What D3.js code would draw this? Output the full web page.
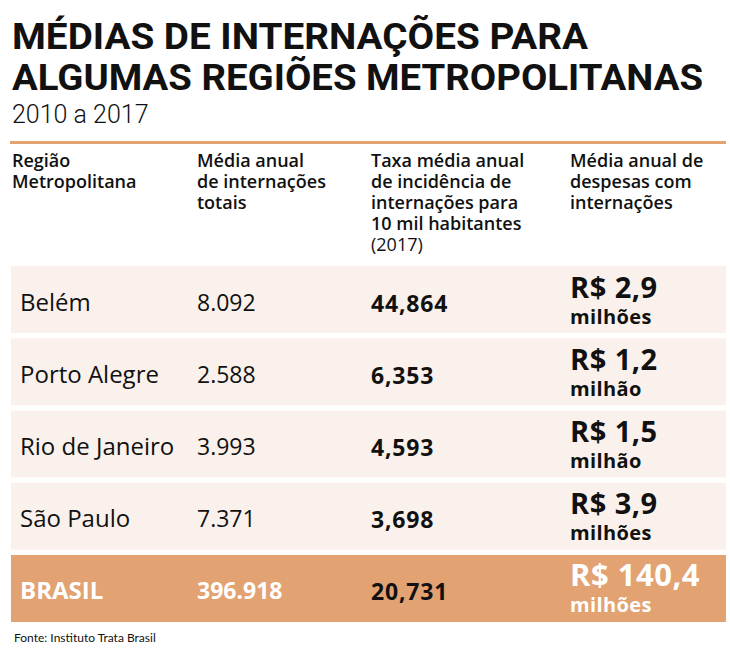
<!DOCTYPE html>
<html>
<head>
<meta charset="utf-8">
<script src="https://cdn.jsdelivr.net/npm/d3@7"></script>
<style>
  body { margin: 0; background: #fff; }
  svg { display: block; }
</style>
</head>
<body>
<svg id="chart"></svg>
<script>
// data
const titleLines = ["MÉDIAS DE INTERNAÇÕES PARA", "ALGUMAS REGIÕES METROPOLITANAS"];
const subtitle = "2010 a 2017";
const headers = [
    ["Região", "Metropolitana"],
    ["Média anual", "de internações", "totais"],
    ["Taxa média anual", "de incidência de", "internações para", "10 mil habitantes", "(2017)"],
    ["Média anual de", "despesas com", "internações"]
];
const regions = ["Belém", "Porto Alegre", "Rio de Janeiro", "São Paulo", "BRASIL"];
const internacoes = ["8.092", "2.588", "3.993", "7.371", "396.918"];
const taxas = ["44,864", "6,353", "4,593", "3,698", "20,731"];
const despesas = ["R$ 2,9", "R$ 1,2", "R$ 1,5", "R$ 3,9", "R$ 140,4"];
const despesaUnits = ["milhões", "milhão", "milhão", "milhões", "milhões"];
const source = "Fonte: Instituto Trata Brasil";

const width = 730, height = 660;
const accent = "#e3a272";
const rowFill = "#faf1ec";
const font = "'Open Sans', Lato, sans-serif";

const svg = d3.select("#chart")
    .attr("width", width)
    .attr("height", height)
    .style("font-family", font);

// title
svg.append("g").selectAll("text")
    .data(titleLines)
    .join("text")
    .attr("x", 12)
    .attr("y", (d, i) => 49 + i * 41)
    .attr("textLength", (d, i) => i === 0 ? 576 : 691)
    .attr("lengthAdjust", "spacingAndGlyphs")
    .style("font-family", "Roboto, sans-serif")
    .style("font-weight", 700)
    .style("font-size", "36px")
    .attr("fill", "#111")
    .text(d => d);

svg.append("text")
    .attr("x", 12)
    .attr("y", 123)
    .style("font-family", "Roboto, sans-serif")
    .style("font-weight", 300)
    .style("font-size", "25px")
    .attr("fill", "#111")
    .text(subtitle);

svg.append("rect")
    .attr("x", 10).attr("y", 141)
    .attr("width", 716).attr("height", 3)
    .attr("fill", accent);

// columns
const colX = d3.scaleOrdinal()
    .domain([0, 1, 2, 3])
    .range([12, 197, 371, 570]);

// headers
const head = svg.append("g").selectAll("g")
    .data(headers)
    .join("g")
    .attr("transform", (d, i) => `translate(${colX(i)},0)`);

head.selectAll("text")
    .data(d => d)
    .join("text")
    .attr("x", 0)
    .attr("y", (d, i) => 167 + i * 21)
    .style("font-size", "18px")
    .style("font-weight", d => d === "(2017)" ? 400 : 600)
    .attr("fill", "#111")
    .text(d => d);

// rows
const y = d3.scaleBand()
    .domain(regions)
    .range([266, 622])
    .paddingInner(0.072)
    .paddingOuter(0);

const isTotal = (i) => i === regions.length - 1;

const rows = svg.append("g").selectAll("g")
    .data(regions)
    .join("g")
    .attr("transform", d => `translate(0,${y(d)})`);

rows.append("rect")
    .attr("x", 11)
    .attr("width", 715)
    .attr("height", y.bandwidth())
    .attr("fill", (d, i) => isTotal(i) ? accent : rowFill);

const mid = y.bandwidth() / 2;

rows.append("text")
    .attr("x", 20)
    .attr("y", mid + 11)
    .style("font-size", "24px")
    .style("font-weight", (d, i) => isTotal(i) ? 700 : 400)
    .attr("fill", (d, i) => isTotal(i) ? "#fff" : "#111")
    .text(d => d);

rows.append("text")
    .attr("x", colX(1))
    .attr("y", mid + 11)
    .style("font-size", "23px")
    .style("font-weight", (d, i) => isTotal(i) ? 700 : 400)
    .attr("fill", (d, i) => isTotal(i) ? "#fff" : "#111")
    .text((d, i) => internacoes[i]);

rows.append("text")
    .attr("x", colX(2))
    .attr("y", mid + 12)
    .style("font-size", "23px")
    .style("font-weight", 700)
    .style("letter-spacing", "0.8px")
    .attr("fill", "#111")
    .text((d, i) => taxas[i]);

rows.append("text")
    .attr("x", colX(3))
    .attr("y", mid - 2)
    .style("font-size", (d, i) => isTotal(i) ? "31px" : "29px")
    .style("font-weight", 700)
    .style("letter-spacing", "0.5px")
    .attr("fill", (d, i) => isTotal(i) ? "#fff" : "#111")
    .text((d, i) => despesas[i]);

rows.append("text")
    .attr("x", colX(3))
    .attr("y", mid + 24)
    .style("font-size", "20px")
    .style("font-weight", 700)
    .style("letter-spacing", "0.4px")
    .attr("fill", (d, i) => isTotal(i) ? "#fff" : "#111")
    .text((d, i) => despesaUnits[i]);

// source
svg.append("text")
    .attr("x", 14)
    .attr("y", 642)
    .style("font-family", "Lato, sans-serif")
    .style("font-size", "12px")
    .attr("fill", "#111")
    .text(source);
</script>
</body>
</html>
